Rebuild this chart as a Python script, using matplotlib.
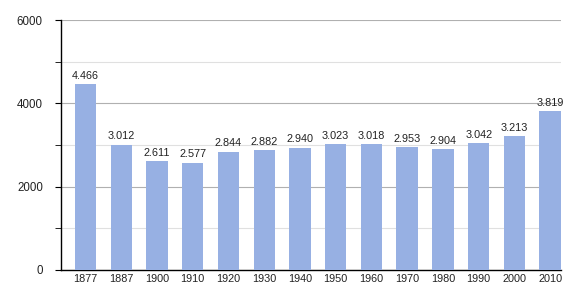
import matplotlib
matplotlib.use("Agg")
import matplotlib.pyplot as plt
from matplotlib.ticker import MultipleLocator

years = ["1877", "1887", "1900", "1910", "1920", "1930", "1940", "1950", "1960", "1970", "1980", "1990", "2000", "2010"]
population = [4466, 3012, 2611, 2577, 2844, 2882, 2940, 3023, 3018, 2953, 2904, 3042, 3213, 3819]
labels = ["4.466", "3.012", "2.611", "2.577", "2.844", "2.882", "2.940", "3.023", "3.018", "2.953", "2.904", "3.042", "3.213", "3.819"]

plt.rcParams['font.family'] = ['Liberation Sans', 'DejaVu Sans']
fig = plt.figure(figsize=(5.8, 3.0), dpi=100)
ax = fig.add_axes([0.105, 0.1, 0.862, 0.833])

x = list(range(len(years)))
bars = ax.bar(x, population, width=0.6, color="#97b0e3", zorder=3)
for xi, v, lab in zip(x, population, labels):
    ax.text(xi, v + 80, lab, ha="center", va="bottom", fontsize=7.8, color="#222222", zorder=4)

ax.set_xlim(-0.69, 13.3)
ax.set_ylim(0, 6000)
ax.set_xticks(x)
ax.set_xticklabels(years)
ax.yaxis.set_major_locator(MultipleLocator(2000))
ax.yaxis.set_minor_locator(MultipleLocator(1000))
ax.grid(axis="y", which="major", color="#b0b0b0", linewidth=0.8, zorder=0)
ax.grid(axis="y", which="minor", color="#e0e0e0", linewidth=0.8, zorder=0)
for s in ["top", "right"]:
    ax.spines[s].set_visible(False)
ax.spines["left"].set_linewidth(1.0)
ax.spines["bottom"].set_linewidth(1.0)
ax.tick_params(axis="y", which="both", length=4, labelsize=8.3, pad=9, labelcolor="#222222")
ax.tick_params(axis="x", length=0, labelsize=7.8, pad=3, labelcolor="#222222")

fig.savefig("out.png", dpi=100)
